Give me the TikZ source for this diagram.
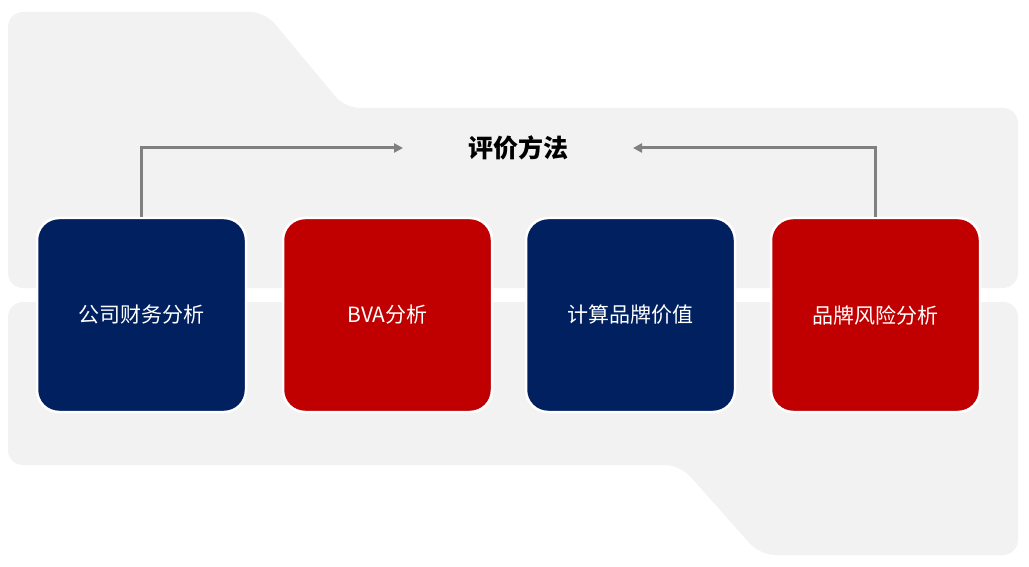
\documentclass[tikz,border=0pt]{standalone}
\usepackage{fontspec}
\setmainfont{Noto Sans CJK SC}
\usetikzlibrary{arrows.meta}
\definecolor{bgg}{HTML}{F2F2F2}
\definecolor{navy}{HTML}{002060}
\definecolor{redc}{HTML}{C00000}
\definecolor{arr}{HTML}{808080}
\tikzset{box/.style={draw=white,line width=2.5pt,rounded corners=22pt,minimum width=209pt,minimum height=194pt,text=white,font=\fontsize{21}{24}\selectfont},
conn/.style={draw=arr,line width=3pt,-{Triangle[length=9pt,width=9pt]}}}
\begin{document}
\begin{tikzpicture}[x=1pt,y=-1pt]
\useasboundingbox (0,0) rectangle (1029,567);
\fill[bgg,rounded corners=15pt] (8,12) -- (265,12) -- (345,108) -- (1018,108) -- (1018,288) -- (8,288) -- cycle;
\fill[bgg,rounded corners=15pt] (8,302) -- (1018,302) -- (1018,555) -- (760,555) -- (680,465) -- (8,465) -- cycle;
\node[box,fill=navy] (b1) at (141.5,315) {公司财务分析};
\node[box,fill=redc] (b2) at (387.5,315) {BVA分析};
\node[box,fill=navy] (b3) at (630.5,315) {计算品牌价值};
\node[box,fill=redc] (b4) at (875.5,315) {品牌风险分析};
\node[font=\bfseries\fontsize{25}{28}\selectfont] (t) at (518,148) {评价方法};
\coordinate (l) at (403,148);
\coordinate (r) at (633,148);
\draw[conn] (b1.north) |- (l);
\draw[conn] (b4.north) |- (r);
\end{tikzpicture}
\end{document}
